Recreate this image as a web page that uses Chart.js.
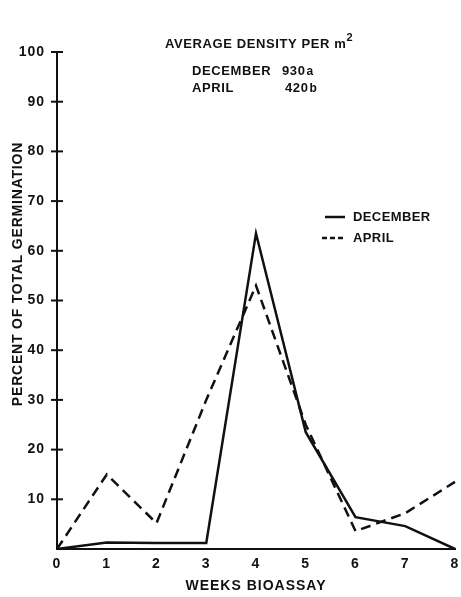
<!DOCTYPE html>
<html>
<head>
<meta charset="utf-8">
<script src="https://cdn.jsdelivr.net/npm/chart.js@4.4.1/dist/chart.umd.min.js"></script>
<style>
  html, body { margin: 0; padding: 0; background: #fff; }
</style>
</head>
<body>
<canvas id="myChart" width="461" height="597"></canvas>
<script>
// data
var weeks = ["0", "1", "2", "3", "4", "5", "6", "7", "8"];
var december = [0, 1.3, 1.2, 1.2, 63.5, 23.5, 6.4, 4.6, 0];
var april = [0, 15, 5.2, 30, 53, 25, 3.6, 7.2, 13.5];
var seriesNames = ["DECEMBER", "APRIL"];
var densityRows = [["DECEMBER", "930", "a"], ["APRIL", "420", "b"]];

var ink = "#111";
var fontFam = "'Liberation Sans', Arial, sans-serif";

// lettering in the original is a bit spaced out
var spacing = {
    id: "spacing",
    beforeDraw: function(chart) { chart.ctx.letterSpacing = "1px"; }
};

// tick marks that cross the y axis, text block, legend and y title
var decorations = {
    id: "decorations",
    afterDraw: function(chart) {
        var ctx = chart.ctx;
        var y = chart.scales.y;
        var area = chart.chartArea;
        ctx.save();
        ctx.strokeStyle = ink;
        ctx.lineWidth = 2;
        y.ticks.forEach(function(t) {
            if (t.value <= 0) return;
            var py = y.getPixelForValue(t.value);
            ctx.beginPath();
            ctx.moveTo(area.left - 6, py);
            ctx.lineTo(area.left + 6, py);
            ctx.stroke();
        });

        ctx.fillStyle = ink;
        ctx.textBaseline = "middle";
        ctx.textAlign = "left";
        ctx.letterSpacing = "0.6px";
        ctx.font = "bold 13px " + fontFam;
        ctx.fillText("AVERAGE DENSITY PER m", 165, 44);
        var w = ctx.measureText("AVERAGE DENSITY PER m").width;
        ctx.font = "bold 11px " + fontFam;
        ctx.fillText("2", 165 + w, 38);
        ctx.font = "bold 13px " + fontFam;
        densityRows.forEach(function(r, i) {
            var ty = 71 + i * 17;
            var nx = i === 0 ? 282 : 285;
            ctx.fillText(r[0], 192, ty);
            ctx.fillText(r[1], nx, ty);
            var nw = ctx.measureText(r[1]).width;
            ctx.font = "bold 12px " + fontFam;
            ctx.fillText(r[2], nx + nw + 1, ty + 1);
            ctx.font = "bold 13px " + fontFam;
        });

        // legend
        ctx.lineWidth = 2.5;
        ctx.setLineDash([]);
        ctx.beginPath(); ctx.moveTo(325, 217); ctx.lineTo(345, 217); ctx.stroke();
        ctx.setLineDash([5, 3]);
        ctx.beginPath(); ctx.moveTo(322, 238); ctx.lineTo(346, 238); ctx.stroke();
        ctx.setLineDash([]);
        ctx.letterSpacing = "0.4px";
        ctx.fillText(seriesNames[0], 353, 217);
        ctx.fillText(seriesNames[1], 353, 238);

        // y axis title
        ctx.translate(18, 274);
        ctx.rotate(-Math.PI / 2);
        ctx.textAlign = "center";
        ctx.letterSpacing = "0.8px";
        ctx.font = "bold 14px " + fontFam;
        ctx.fillText("PERCENT OF TOTAL GERMINATION", 0, 0);
        ctx.restore();
    }
};

var chart = new Chart(document.getElementById("myChart").getContext("2d"), {
    type: "line",
    data: {
        labels: weeks,
        datasets: [
            {
                label: seriesNames[0],
                data: december,
                borderColor: ink,
                borderWidth: 2.5,
                pointRadius: 0,
                tension: 0,
                fill: false
            },
            {
                label: seriesNames[1],
                data: april,
                borderColor: ink,
                borderWidth: 2.5,
                borderDash: [10, 6],
                pointRadius: 0,
                tension: 0,
                fill: false
            }
        ]
    },
    options: {
        responsive: false,
        animation: false,
        devicePixelRatio: 1,
        layout: { padding: { top: 52, right: 6, bottom: 0, left: 0 } },
        plugins: {
            legend: { display: false },
            tooltip: { enabled: false }
        },
        scales: {
            x: {
                type: "category",
                offset: false,
                afterFit: function(s) {
                    s.height = 48;
                    s.paddingRight = 0;
                    s.paddingLeft = 0;
                },
                grid: { drawOnChartArea: false, drawTicks: false },
                border: { display: true, color: ink, width: 2 },
                ticks: {
                    color: ink,
                    padding: 7,
                    maxRotation: 0,
                    font: { family: fontFam, size: 14, weight: "bold" }
                },
                title: {
                    display: true,
                    text: "WEEKS BIOASSAY",
                    color: ink,
                    padding: { top: 0, bottom: 2 },
                    font: { family: fontFam, size: 14, weight: "bold" }
                }
            },
            y: {
                min: 0,
                max: 100,
                afterFit: function(s) { s.width = 57; },
                grid: { drawOnChartArea: false, drawTicks: false },
                border: { display: true, color: ink, width: 2 },
                ticks: {
                    stepSize: 10,
                    color: ink,
                    padding: 12,
                    font: { family: fontFam, size: 14, weight: "bold" },
                    callback: function(v) { return v === 0 ? "" : v; }
                }
            }
        }
    },
    plugins: [spacing, decorations]
});
</script>
</body>
</html>
